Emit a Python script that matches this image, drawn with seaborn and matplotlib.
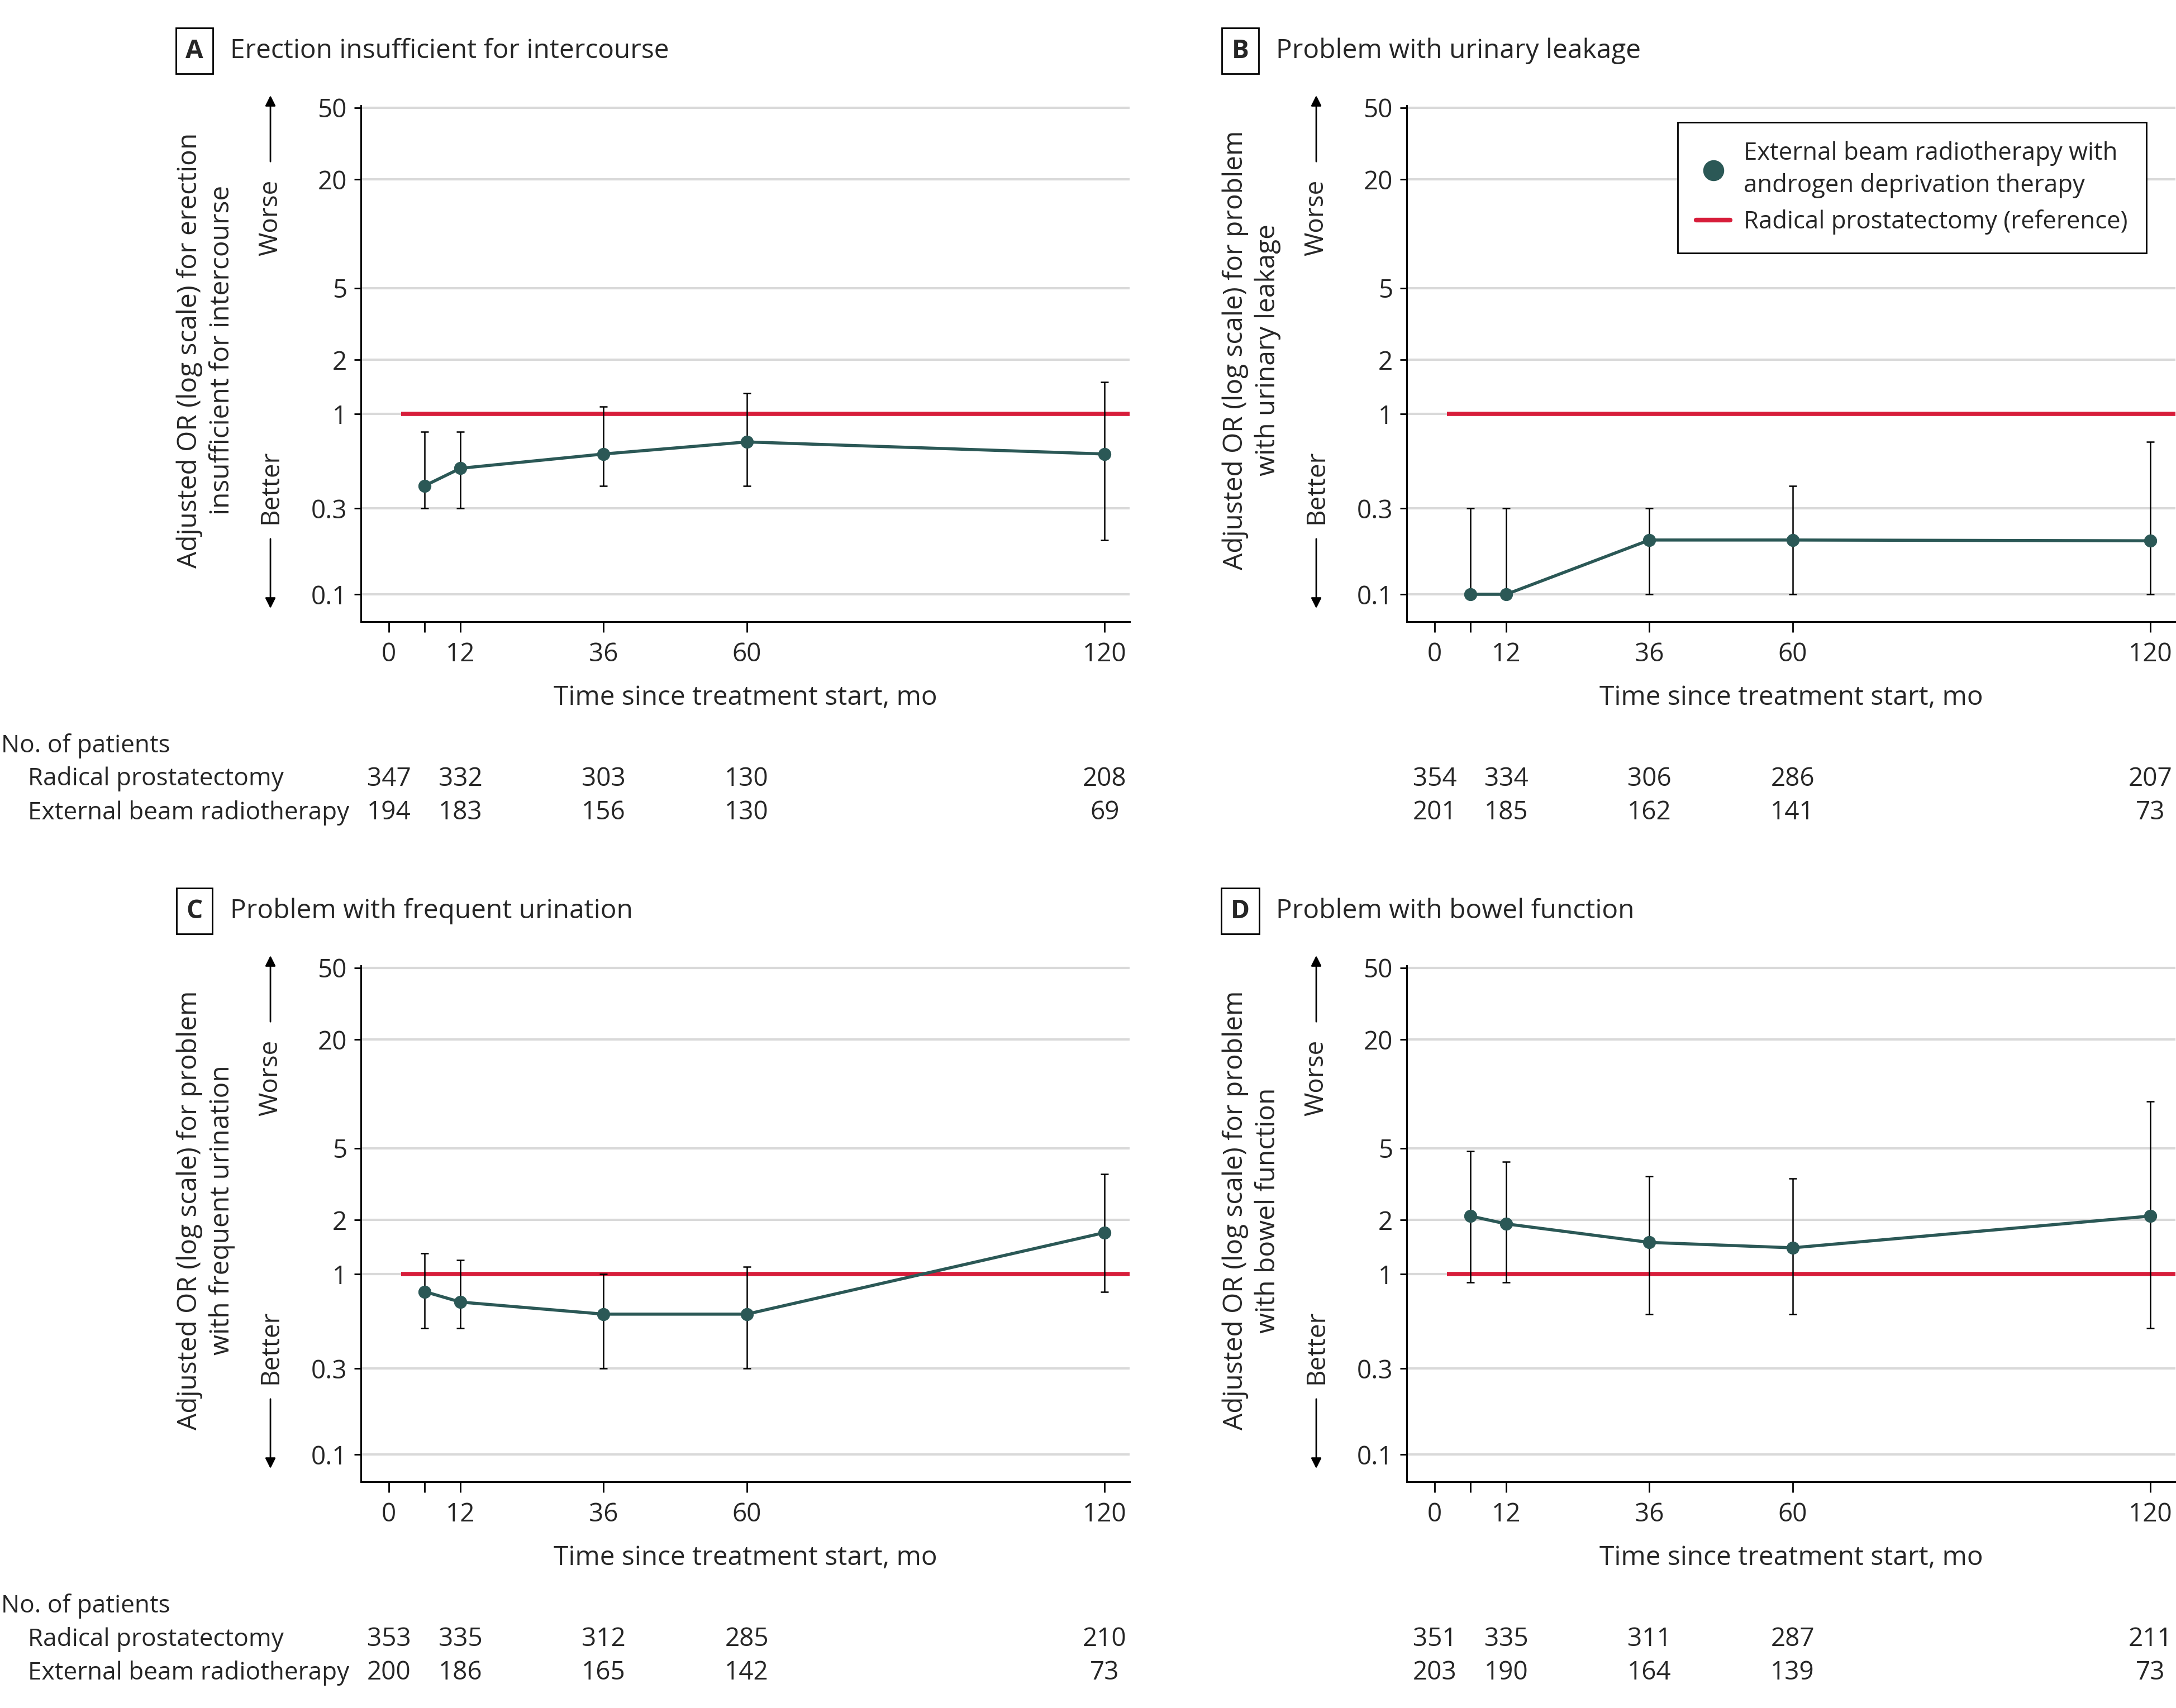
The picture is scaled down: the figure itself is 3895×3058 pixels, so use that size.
import numpy as np
import seaborn as sns
import matplotlib.pyplot as plt
from matplotlib import font_manager
from matplotlib.lines import Line2D
from matplotlib.transforms import blended_transform_factory

# months at which the odds ratios were estimated
months = [6, 12, 36, 60, 120]
# months under which patient counts are printed
count_months = [0, 12, 36, 60, 120]

x_ticks = [0, 6, 12, 36, 60, 120]
x_tick_labels = ['0', '', '12', '36', '60', '120']
y_ticks = [0.1, 0.3, 1, 2, 5, 20, 50]
y_tick_labels = ['0.1', '0.3', '1', '2', '5', '20', '50']
ref_or = 1.0

# A: erection insufficient for intercourse
or_a = [0.40, 0.50, 0.60, 0.70, 0.60]
lo_a = [0.30, 0.30, 0.40, 0.40, 0.20]
hi_a = [0.80, 0.80, 1.10, 1.30, 1.50]
rp_a = [347, 332, 303, 130, 208]
ebrt_a = [194, 183, 156, 130, 69]

# B: urinary leakage
or_b = [0.10, 0.10, 0.20, 0.20, 0.198]
lo_b = [0.10, 0.10, 0.10, 0.10, 0.10]
hi_b = [0.30, 0.30, 0.30, 0.40, 0.70]
rp_b = [354, 334, 306, 286, 207]
ebrt_b = [201, 185, 162, 141, 73]

# C: frequent urination
or_c = [0.80, 0.70, 0.60, 0.60, 1.70]
lo_c = [0.50, 0.50, 0.30, 0.30, 0.80]
hi_c = [1.30, 1.20, 1.00, 1.10, 3.60]
rp_c = [353, 335, 312, 285, 210]
ebrt_c = [200, 186, 165, 142, 73]

# D: bowel function
or_d = [2.10, 1.90, 1.50, 1.40, 2.10]
lo_d = [0.90, 0.90, 0.60, 0.60, 0.50]
hi_d = [4.80, 4.20, 3.50, 3.40, 9.10]
rp_d = [351, 335, 311, 287, 211]
ebrt_d = [203, 190, 164, 139, 73]

sns.set_theme(style='ticks')
names = {f.name for f in font_manager.fontManager.ttflist}
font = next((n for n in ['Open Sans', 'Noto Sans', 'Liberation Sans'] if n in names), 'DejaVu Sans')
plt.rcParams['font.family'] = [font, 'DejaVu Sans']

TEAL = '#2b5856'
RED = '#d71d3a'
GRID = '#d9d9d9'
FS = 33

W, H = 3895, 3058
fig = plt.figure(figsize=(W / 100, H / 100), dpi=100)


def panel(left_px, top_px, letter, title, ylab, ors, lo, hi, rp, ebrt, table_y, row_labels, legend=False):
    bottom_px = top_px + 924
    ax = fig.add_axes([left_px / W, 1 - bottom_px / H, 1376 / W, 924 / H])
    ax.set_yscale('log')
    ax.set_ylim(0.0705, 51.4)
    ax.set_xlim(-4.7, 124.2)
    ax.yaxis.grid(True, color=GRID, lw=3, zorder=0)
    ax.xaxis.grid(False)
    ax.set_axisbelow(True)

    ax.hlines(ref_or, 2, 124.2, color=RED, lw=5.5, zorder=2)
    ors = np.array(ors)
    ax.errorbar(months, ors, yerr=[ors - np.array(lo), np.array(hi) - ors], fmt='none',
                ecolor='black', elinewidth=1.8, capsize=5, capthick=1.8, zorder=3)
    sns.lineplot(x=months, y=ors, ax=ax, color=TEAL, lw=4, marker='o', markersize=16,
                 markeredgecolor=TEAL, zorder=4)

    ax.set_yticks(y_ticks)
    ax.set_yticklabels(y_tick_labels)
    ax.yaxis.set_minor_locator(plt.NullLocator())
    ax.set_xticks(x_ticks)
    ax.set_xticklabels(x_tick_labels)
    ax.tick_params(axis='y', length=9, width=2, pad=9, labelsize=FS, color='black')
    ax.tick_params(axis='x', length=14, width=2, pad=12, labelsize=FS, color='black')
    sns.despine(ax=ax)
    for s in ['left', 'bottom']:
        ax.spines[s].set_linewidth(2.2)
        ax.spines[s].set_color('black')

    ax.set_xlabel('Time since treatment start, mo', fontsize=34.5, va='center')
    ax.xaxis.set_label_coords(0.5, -0.147)
    ax.set_ylabel(ylab, fontsize=34.5, va='center', ha='center', linespacing=1.3)
    ax.yaxis.set_label_coords(-0.202, 0.526)

    # Worse / Better arrows
    xa = -0.1177
    ax.annotate('', xy=(xa, 1.0227), xytext=(xa, 0.8885), xycoords='axes fraction',
                arrowprops=dict(arrowstyle='-|>', color='black', lw=2, mutation_scale=28),
                annotation_clip=False)
    ax.annotate('', xy=(xa, 0.0227), xytext=(xa, 0.1634), xycoords='axes fraction',
                arrowprops=dict(arrowstyle='-|>', color='black', lw=2, mutation_scale=28),
                annotation_clip=False)
    ax.text(xa, 0.7825, 'Worse', transform=ax.transAxes, rotation=90, ha='center', va='center', fontsize=FS)
    ax.text(xa, 0.2608, 'Better', transform=ax.transAxes, rotation=90, ha='center', va='center', fontsize=FS)

    # panel letter and title
    fig.text((left_px - 298) / W, 1 - (top_px - 98) / H, letter, ha='center', va='center',
             fontsize=FS, weight='bold',
             bbox=dict(boxstyle='square,pad=0.38', fc='white', ec='black', lw=2))
    fig.text((left_px - 234) / W, 1 - (top_px - 98) / H, title, ha='left', va='center', fontsize=34.5)

    # number of patients table
    tr = blended_transform_factory(ax.transData, fig.transFigure)
    for row, y in zip([rp, ebrt], table_y[1:]):
        for m, n in zip(count_months, row):
            ax.text(m, 1 - y / H, str(n), transform=tr, ha='center', va='center', fontsize=FS)
    if row_labels:
        fig.text(2 / W, 1 - table_y[0] / H, 'No. of patients', ha='left', va='center', fontsize=31.8)
        fig.text(50 / W, 1 - table_y[1] / H, 'Radical prostatectomy', ha='left', va='center', fontsize=31.8)
        fig.text(50 / W, 1 - table_y[2] / H, 'External beam radiotherapy', ha='left', va='center', fontsize=31.8)

    if legend:
        handles = [Line2D([], [], color=TEAL, marker='o', ls='none', markersize=26),
                   Line2D([], [], color=RED, lw=6)]
        lg = ax.legend(handles, ['External beam radiotherapy with\nandrogen deprivation therapy',
                                 'Radical prostatectomy (reference)'],
                       loc='upper right', bbox_to_anchor=(0.962, 0.9675), borderaxespad=0,
                       fontsize=31.5, frameon=True, fancybox=False, edgecolor='black', framealpha=1,
                       handlelength=1.4, borderpad=0.75, labelspacing=0.45, handletextpad=0.55)
        lg.get_frame().set_linewidth(2)
        for t in lg.get_texts():
            t.set_linespacing(1.4)
    return ax


panel(646, 189, 'A', 'Erection insufficient for intercourse',
      'Adjusted OR (log scale) for erection\ninsufficient for intercourse',
      or_a, lo_a, hi_a, rp_a, ebrt_a, [1336, 1395, 1455], True)
panel(2518, 189, 'B', 'Problem with urinary leakage',
      'Adjusted OR (log scale) for problem\nwith urinary leakage',
      or_b, lo_b, hi_b, rp_b, ebrt_b, [1336, 1395, 1455], False, legend=True)
panel(646, 1729, 'C', 'Problem with frequent urination',
      'Adjusted OR (log scale) for problem\nwith frequent urination',
      or_c, lo_c, hi_c, rp_c, ebrt_c, [2876, 2935, 2995], True)
panel(2518, 1729, 'D', 'Problem with bowel function',
      'Adjusted OR (log scale) for problem\nwith bowel function',
      or_d, lo_d, hi_d, rp_d, ebrt_d, [2876, 2935, 2995], False)

fig.savefig('out.png', dpi=100)
